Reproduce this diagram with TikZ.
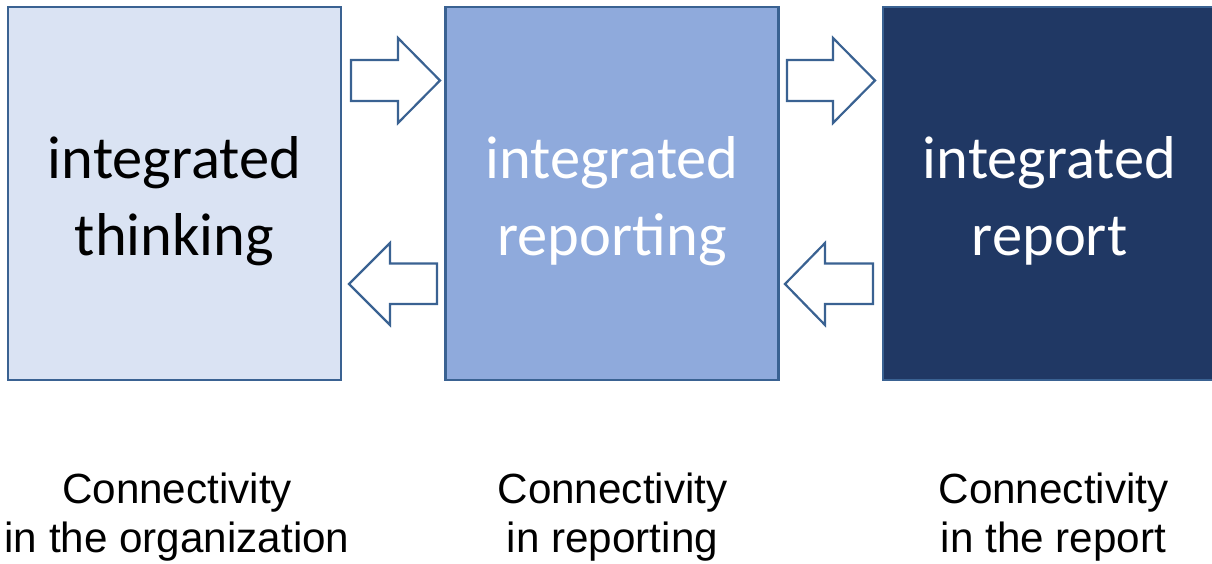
\documentclass[tikz,border=0pt]{standalone}
\usepackage{fontspec}
\setmainfont{Liberation Sans}
\newfontfamily\boxfont{Carlito}
\definecolor{edge}{HTML}{3A6292}
\definecolor{fillA}{HTML}{DAE3F3}
\definecolor{fillB}{HTML}{8FAADC}
\definecolor{fillC}{HTML}{203864}
\tikzset{
  panel/.style={draw=edge, line width=2.2pt, minimum width=333pt, minimum height=373pt, inner sep=0pt},
  bigtxt/.style={font=\boxfont\fontsize{60.5}{56}\selectfont, anchor=base, inner sep=0pt},
  captxt/.style={font=\fontsize{42.2}{50}\selectfont, anchor=base, inner sep=0pt},
  blockarrow/.style={draw=edge, line width=2.2pt, fill=white, line join=miter}
}
\begin{document}
\begin{tikzpicture}[x=1pt,y=-1pt]
\useasboundingbox (0,0) rectangle (1212,563);
\clip (0,0) rectangle (1212,563);
% boxes
\node[panel, fill=fillA] (b1) at (174.5,193.5) {};
\node[panel, fill=fillB] (b2) at (612,193.5) {};
\node[panel, fill=fillC] (b3) at (1049.5,193.5) {};
% box texts
\node[bigtxt, text=black] (t1a) at (174.5,178) {integrated};
\node[bigtxt, text=black] (t1b) at (174.5,255) {thinking};
\node[bigtxt, text=white] (t2a) at (612,178) {integrated};
\node[bigtxt, text=white] (t2b) at (612,255) {reporting};
\node[bigtxt, text=white] (t3a) at (1049.5,178) {integrated};
\node[bigtxt, text=white] (t3b) at (1049.5,255) {report};
% block arrows
\draw[blockarrow] (351,60) -- (398,60) -- (398,38) -- (440,80.5) -- (398,123) -- (398,101) -- (351,101) -- cycle;
\draw[blockarrow] (437,263.5) -- (390,263.5) -- (390,243) -- (349,284) -- (390,325) -- (390,304) -- (437,304) -- cycle;
\draw[blockarrow] (787,60) -- (833,60) -- (833,38) -- (875,80.5) -- (833,123) -- (833,101) -- (787,101) -- cycle;
\draw[blockarrow] (873,263.5) -- (825,263.5) -- (825,243) -- (785,284) -- (825,325) -- (825,304) -- (873,304) -- cycle;
% captions
\node[captxt] (c1a) at (177,503) {Connectivity};
\node[captxt] (c1b) at (177,552) {in the organization};
\node[captxt] (c2a) at (612.5,503) {Connectivity};
\node[captxt] (c2b) at (612.5,552) {in reporting};
\node[captxt] (c3a) at (1053.5,503) {Connectivity};
\node[captxt] (c3b) at (1053.5,552) {in the report};
\end{tikzpicture}
\end{document}
